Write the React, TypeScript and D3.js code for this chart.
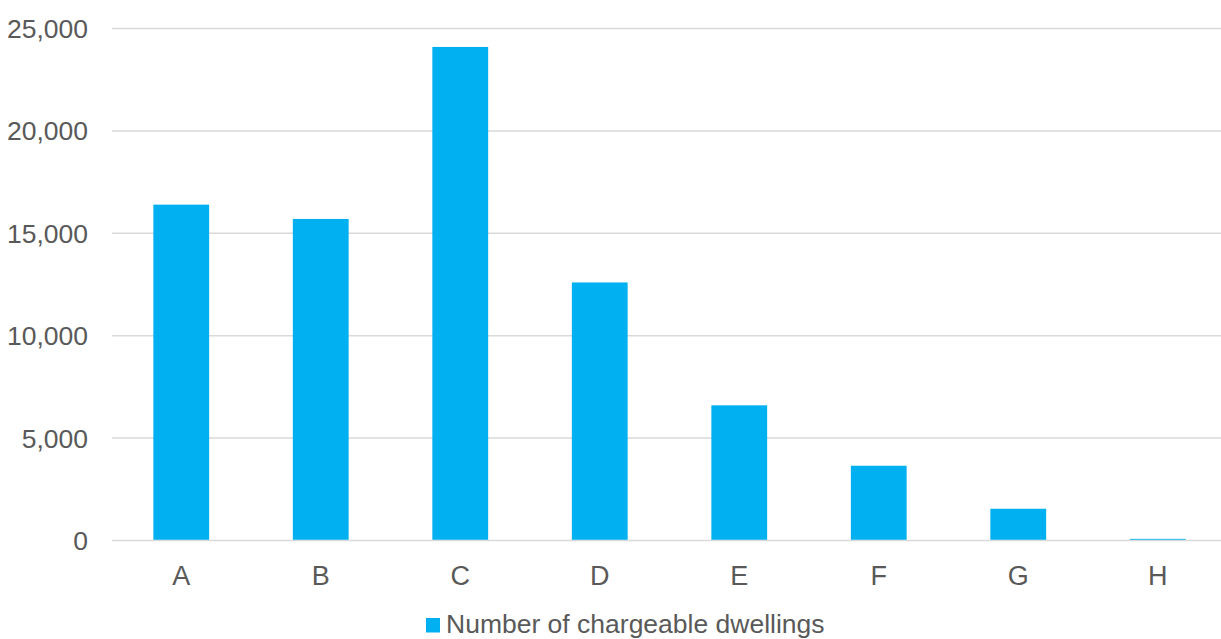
import React from "react";
import * as d3 from "d3";

const categories = ["A", "B", "C", "D", "E", "F", "G", "H"];
const dwellings = [16400, 15700, 24100, 12600, 6600, 3650, 1550, 80];
const yTicks = [0, 5000, 10000, 15000, 20000, 25000];
const seriesName = "Number of chargeable dwellings";

const W = 1221;
const H = 639;
const FONT = "'Liberation Sans', Arial, sans-serif";
const TEXT = "#595959";
const BAR = "#00B0F0";
const GRID = "#D9D9D9";

export default function App() {
  const x = d3.scaleBand<string>().domain(categories).range([111.5, 1227.5]).paddingInner(0).paddingOuter(0);
  const y = d3.scaleLinear().domain([0, 25000]).range([540.5, 28.5]);
  const bw = x.bandwidth() * 0.4;
  const fmt = d3.format(",");

  return (
    <svg width={W} height={H} style={{ position: "absolute", left: 0, top: 0, background: "#fff" }} fontFamily={FONT}>
      <rect x={0} y={0} width={W} height={H} fill="#fff" />
      {yTicks.map((t) => (
        <g key={t}>
          <line x1={112} x2={W} y1={y(t)} y2={y(t)} stroke={GRID} strokeWidth={1.5} />
          <text x={88} y={y(t)} dy="0.36em" textAnchor="end" fontSize={26.5} fill={TEXT}>
            {fmt(t)}
          </text>
        </g>
      ))}
      {categories.map((c, i) => {
        const cx = (x(c) as number) + x.bandwidth() / 2;
        return (
          <g key={c}>
            <rect x={cx - bw / 2} y={y(dwellings[i])} width={bw} height={y(0) - y(dwellings[i]) - 0.75} fill={BAR} />
            <text x={cx} y={584.5} textAnchor="middle" fontSize={27} fill={TEXT}>
              {c}
            </text>
          </g>
        );
      })}
      <g>
        <rect x={426} y={618} width={14} height={14.5} fill={BAR} />
        <text x={446} y={633} fontSize={26.5} fill={TEXT}>
          {seriesName}
        </text>
      </g>
    </svg>
  );
}
